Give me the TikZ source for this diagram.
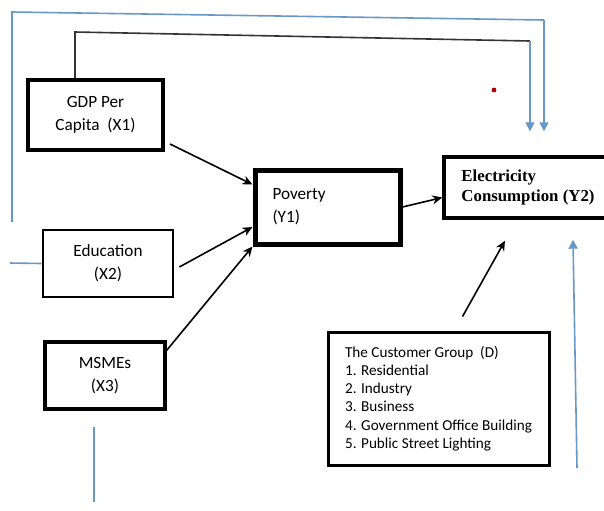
\documentclass[tikz,border=0pt]{standalone}
\usepackage{fontspec}
\setmainfont{Carlito}
\newfontfamily\timesfont{Liberation Serif}
\usepackage{xcolor}
\usetikzlibrary{arrows.meta,positioning,calc}
\definecolor{lineblue}{RGB}{104,152,200}
\tikzset{
  varbox/.style={rectangle, draw=black, line width=1.8pt, align=center, inner sep=2pt, font=\fontsize{8.6}{11.5}\selectfont}, % boxes of the variables
  listbox/.style={rectangle, draw=black, line width=1.5pt, align=left, inner sep=2pt, font=\fontsize{7.6}{9.1}\selectfont},
  link/.style={->, >={Stealth[length=5pt,width=4.5pt]}, line width=0.8pt},
  bluelink/.style={->, draw=lineblue, >={Triangle[length=4.5pt,width=4.5pt]}, line width=0.8pt, fill=none},
  blueline/.style={draw=lineblue, line width=0.8pt}
}

\begin{document}
\begin{tikzpicture}[x=0.5pt, y=-0.5pt]
    \useasboundingbox (0,0) rectangle (604,510);

    % Nodes
    \node[varbox, line width=2pt, minimum width=67.5pt, minimum height=35pt] (gdp) at (95.5,115) {GDP Per\\Capita\ \ (X1)};
    \node[varbox, line width=1.35pt, minimum width=65pt, minimum height=33.5pt] (edu) at (108,263.5) {Education\\(X2)};
    \node[varbox, line width=1.7pt, minimum width=60pt, minimum height=33.5pt] (msme) at (105,375.5) {MSMEs\\(X3)};
    \node[varbox, line width=2.5pt, minimum width=72.5pt, minimum height=37pt, text width=55pt, align=left] (pov) at (327.5,207) {Poverty\\(Y1)};
    \node[varbox, line width=1.7pt, minimum width=84pt, minimum height=30.5pt, align=left, font=\timesfont\bfseries\fontsize{8.4}{10}\selectfont] (elec) at (528,187.5) {Electricity\\Consumption (Y2)};
    \node[listbox, minimum width=110.5pt, minimum height=66.5pt] (cust) at (438.5,398.5) {The Customer Group\ \ (D)\\1. Residential\\2. Industry\\3. Business\\4. Government Office Building\\5. Public Street Lighting};

    % free ends of the blue lines
    \coordinate (leftend) at (12,222);
    \coordinate (topleft) at (12,12);
    \coordinate (topright) at (544,20);
    \coordinate (innerleft) at (75,32);
    \coordinate (innerright) at (530,41);
    \coordinate (edustub) at (10,263);
    \coordinate (msmetop) at (94,427);
    \coordinate (msmebot) at (94,502);
    \coordinate (rightbot) at (577,468);

    % Edges
    \draw[link] ([xshift=2.5pt,yshift=4pt]gdp.south east) -- ([yshift=-8.5pt]pov.north west);
    \draw[link] ([xshift=2.5pt,yshift=-1.75pt]edu.east) -- ([yshift=-10pt]pov.west);
    \draw[link] ([yshift=-5pt]msme.north east) -- (pov.south west);
    \draw[link] (pov.east) -- ([yshift=-5pt]elec.west);
    \draw[link] ([xshift=12pt,yshift=7pt]cust.north) -- ([xshift=-11.5pt,yshift=-10.5pt]elec.south);
    \draw[bluelink] (rightbot) -- ([xshift=22.5pt,yshift=-10pt]elec.south);

    % lines over the top
    \draw[blueline] (leftend) -- (topleft) -- (topright);
    \draw[bluelink] (topright) -- ([xshift=8pt,yshift=12pt]elec.north);
    \draw[black!80, line width=0.8pt] ([xshift=-10.25pt]gdp.north) -- (innerleft) -- (innerright);
    \draw[bluelink] (innerright) -- ([xshift=1pt,yshift=12pt]elec.north);

    % stubs
    \draw[blueline] (edustub) -- (edu.west);
    \draw[blueline] (msmetop) -- (msmebot);
    \fill[red!70!black] (494,90) circle (1.2pt);

\end{tikzpicture}
\end{document}
